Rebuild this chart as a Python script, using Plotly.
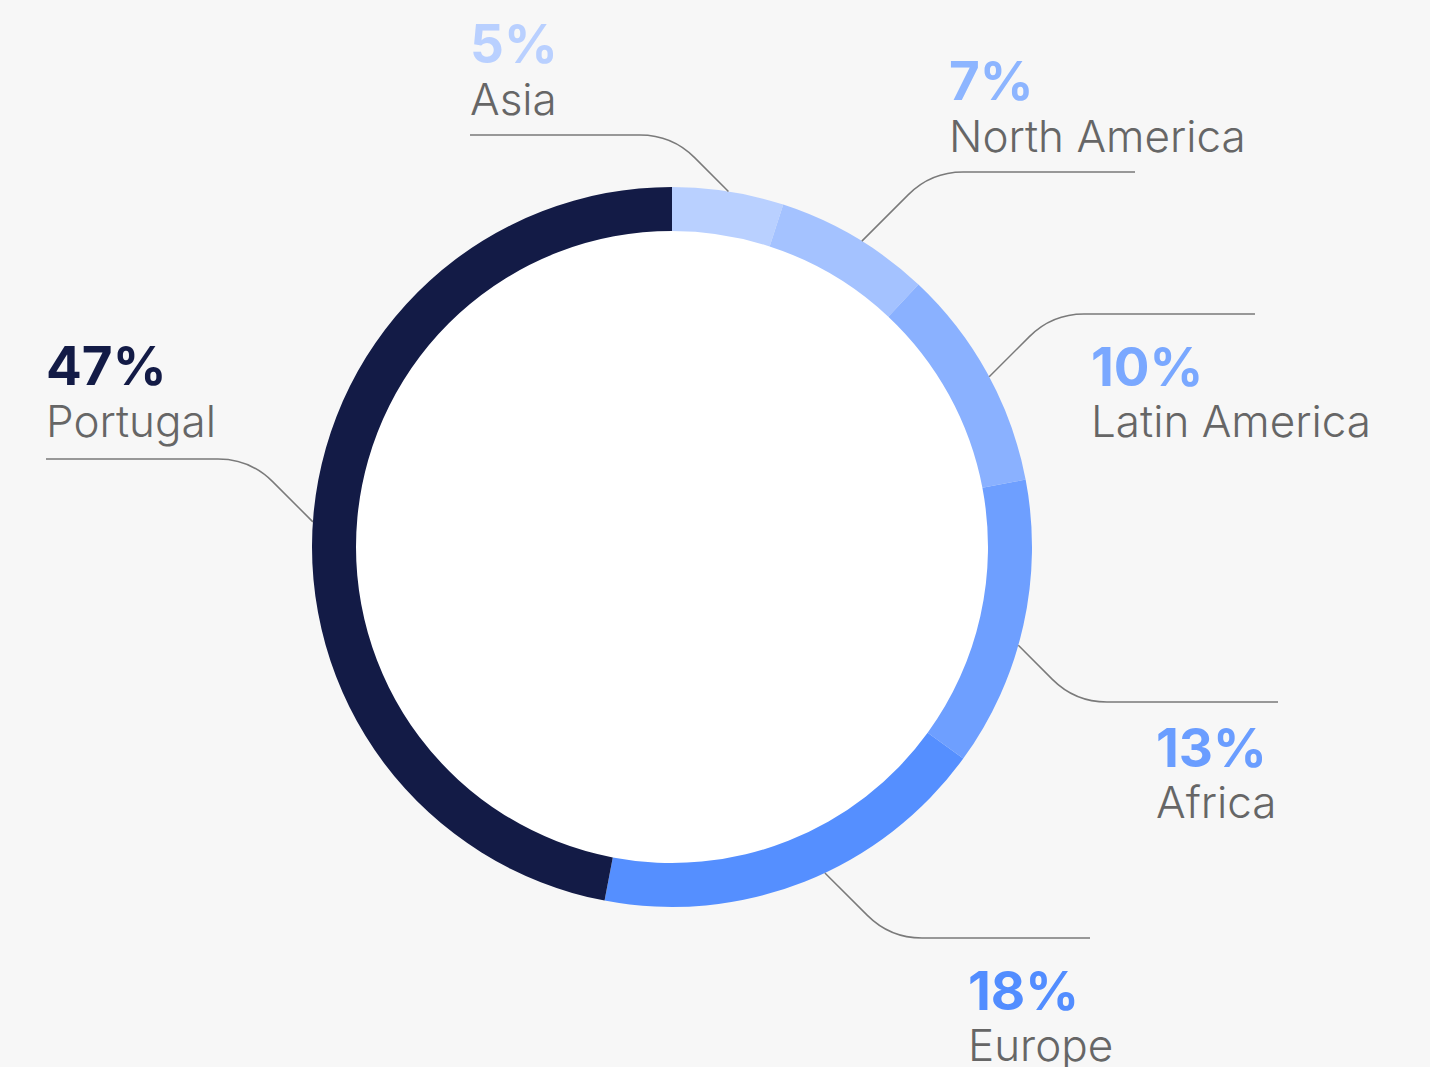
import math
import plotly.graph_objects as go

# ---- data ----
regions = ["Asia", "North America", "Latin America", "Africa", "Europe", "Portugal"]
shares = [5, 7, 10, 13, 18, 47]
pct_labels = ["5%", "7%", "10%", "13%", "18%", "47%"]

# ---- style ----
slice_colors = ["#b9d0ff", "#a4c2ff", "#8ab1ff", "#6e9fff", "#558fff", "#131b46"]
text_colors = ["#b9d0ff", "#8db5ff", "#7aa8ff", "#6a9dff", "#528dff", "#131b46"]
W, H = 1430, 1067
CX, CY, R, R_IN = 672, 547, 360, 316
BG = "#f7f7f7"
LINE_COLOR = "#7a7a7a"
NAME_COLOR = "#666666"

# label layout (pixels): side, leader elbow (x, y), far end of horizontal, text x,
# text above/below, gap between line and percentage baseline
label_layout = {
    "Asia":          dict(side=-1, elbow=(672, 135), far=470,  tx=470,  above=True,  gap=20),
    "North America": dict(side=1,  elbow=(931, 172), far=1135, tx=949,  above=True,  gap=20),
    "Latin America": dict(side=1,  elbow=(1052, 314), far=1255, tx=1091, above=False, gap=72),
    "Africa":        dict(side=1,  elbow=(1075, 702), far=1278, tx=1156, above=False, gap=65),
    "Europe":        dict(side=1,  elbow=(890, 938), far=1090, tx=968,  above=False, gap=72),
    "Portugal":      dict(side=-1, elbow=(250, 459), far=46,   tx=46,   above=True,  gap=22),
}


def px(x):
    return x / W


def py(y):
    return 1 - y / H


fig = go.Figure()
fig.add_trace(go.Pie(
    labels=regions,
    values=shares,
    sort=False,
    direction="clockwise",
    rotation=0,
    hole=R_IN / R,
    marker=dict(colors=slice_colors, line=dict(width=0)),
    textinfo="none",
    hoverinfo="label+percent",
    showlegend=False,
    domain=dict(x=[px(CX - R), px(CX + R)], y=[py(CY + R), py(CY - R)]),
))

shapes = [dict(
    type="circle", xref="paper", yref="paper",
    xsizemode="pixel", ysizemode="pixel",
    xanchor=px(CX), yanchor=py(CY),
    x0=-R_IN - 1, x1=R_IN + 1, y0=-R_IN - 1, y1=R_IN + 1,
    fillcolor="white", line=dict(width=0), layer="below",
)]
annotations = []

CORNER = 32
PCT_SIZE = 53
NAME_SIZE = 44

for name, pct, tcol in zip(regions, pct_labels, text_colors):
    cfg = label_layout[name]
    ex, ey = cfg["elbow"]
    sx = cfg["side"]
    # diagonal from elbow back toward the ring at 45 degrees
    dx, dy = -sx, (1 if ey < CY else -1)
    n = math.sqrt(2)
    ux, uy = dx / n, dy / n
    # intersect ray elbow + t*u with circle radius R
    fx, fy = ex - CX, ey - CY
    b = fx * ux + fy * uy
    c = fx * fx + fy * fy - R * R
    t = -b - math.sqrt(max(b * b - c, 0))
    ax, ay = ex + ux * t, ey + uy * t
    # rounded corner
    p1x, p1y = ex + ux * CORNER, ey + uy * CORNER
    p2x, p2y = ex + sx * CORNER, ey
    path = (f"M {px(ax):.5f},{py(ay):.5f} L {px(p1x):.5f},{py(p1y):.5f} "
            f"Q {px(ex):.5f},{py(ey):.5f} {px(p2x):.5f},{py(p2y):.5f} "
            f"L {px(cfg['far']):.5f},{py(ey):.5f}")
    shapes.append(dict(type="path", xref="paper", yref="paper", path=path,
                       line=dict(color=LINE_COLOR, width=1.5)))

    if cfg["above"]:
        name_base = ey - cfg["gap"]
        pct_base = name_base - 52
    else:
        pct_base = ey + cfg["gap"]
        name_base = pct_base + 51
    annotations.append(dict(
        xref="paper", yref="paper", x=px(cfg["tx"] - 2), y=py(pct_base - 0.36 * PCT_SIZE),
        xanchor="left", yanchor="middle", showarrow=False, text=pct,
        font=dict(family="Inter, Roboto, sans-serif", size=PCT_SIZE, color=tcol, weight=700),
    ))
    annotations.append(dict(
        xref="paper", yref="paper", x=px(cfg["tx"] - 2), y=py(name_base - 0.36 * NAME_SIZE),
        xanchor="left", yanchor="middle", showarrow=False, text=name,
        font=dict(family="Inter, Roboto, sans-serif", size=NAME_SIZE, color=NAME_COLOR, weight=300),
    ))

fig.update_layout(
    width=W, height=H,
    margin=dict(l=0, r=0, t=0, b=0),
    paper_bgcolor=BG, plot_bgcolor=BG,
    shapes=shapes, annotations=annotations,
)

fig.write_html("out.html")
